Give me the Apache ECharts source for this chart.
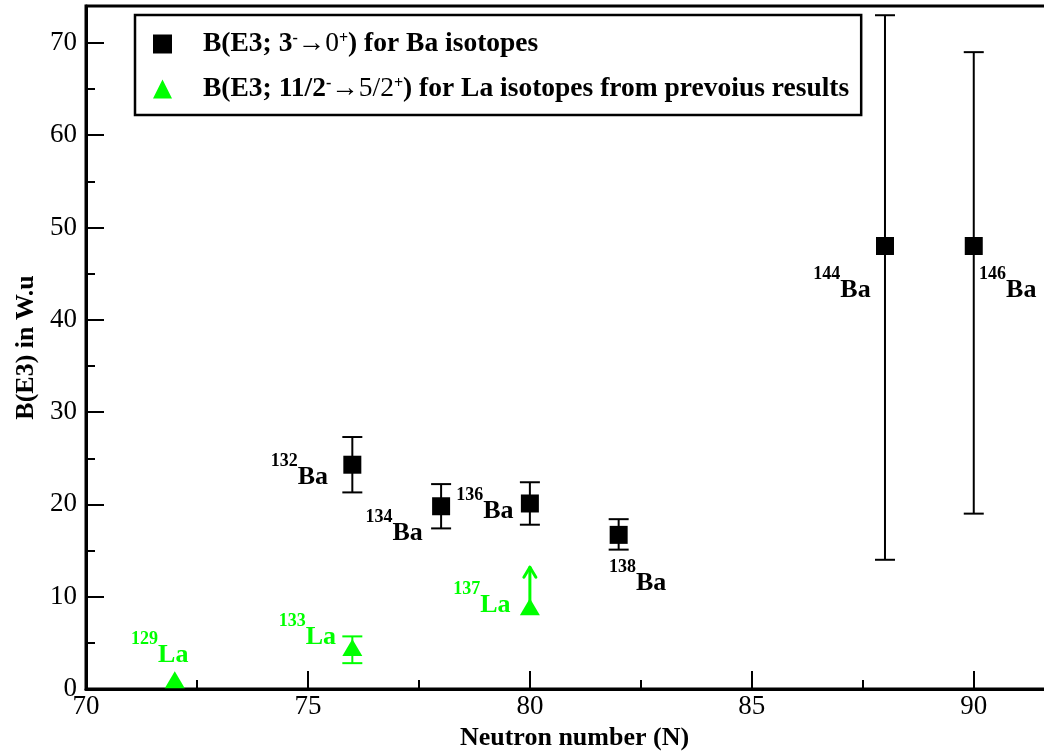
<!DOCTYPE html>
<html>
<head>
<meta charset="utf-8">
<script src="https://cdn.jsdelivr.net/npm/echarts@6/dist/echarts.min.js"></script>
<style>html,body{margin:0;padding:0;background:#fff}#c{width:1044px;height:752px}</style>
</head>
<body>
<div id="c"></div>
<script>
// ---- data ----
const baN    = [76, 78, 80, 82, 88, 90];
const baB    = [24.3, 19.8, 20.1, 16.7, 48.0, 48.0];
const baLow  = [21.3, 17.4, 17.8, 15.1, 14.0, 19.0];
const baHigh = [27.3, 22.2, 22.4, 18.4, 73.0, 69.0];
const baMass = ['132', '134', '136', '138', '144', '146'];

const laN    = [72, 76, 80];
const laB    = [1.0, 4.5, 8.9];
const laLow  = [null, 2.8, null];
const laHigh = [null, 5.7, null];
const laLimitTop = [null, null, 13.2];   // lower-limit arrow
const laMass = ['129', '133', '137'];

const baName = 'B(E3; 3⁻→0⁺) for Ba isotopes';
const laName = 'B(E3; 11/2⁻→5/2⁺) for La isotopes from prevoius results';

// ---- layout / style (not data) ----
const FONT = '"Liberation Serif", "Times New Roman", serif';
const GREEN = '#00ff00';
const baLabelOffset = [[-53, 7], [-47, 21], [-45, 2], [19, 42], [-43, 38], [34, 38]];
const laLabelOffset = [[-15, -30], [-45, -16], [-48, -8]];

function isoRich(color) {
  return {
    s: { fontFamily: FONT, fontWeight: 'bold', fontSize: 18, lineHeight: 18, verticalAlign: 'top', color: color },
    b: { fontFamily: FONT, fontWeight: 'bold', fontSize: 26, lineHeight: 38, verticalAlign: 'bottom', color: color }
  };
}

const baData = baN.map((n, i) => ({
  value: [n, baB[i]],
  label: { show: true, position: 'inside', offset: baLabelOffset[i],
           formatter: '{s|' + baMass[i] + '}{b|Ba}', rich: isoRich('#000') }
}));
const laData = laN.map((n, i) => ({
  value: [n, laB[i]],
  label: { show: true, position: 'inside', offset: laLabelOffset[i],
           formatter: '{s|' + laMass[i] + '}{b|La}', rich: isoRich(GREEN) }
}));

const baErr = baN.map((n, i) => [n, baLow[i], baHigh[i]]);
const laErr = laN.map((n, i) => [n, laLow[i], laHigh[i]]).filter(d => d[1] != null);
const laArrow = laN.map((n, i) => [n, laB[i], laLimitTop[i]]).filter(d => d[2] != null);

function errRender(color) {
  return function (params, api) {
    const x = api.value(0);
    const lo = api.coord([x, api.value(1)]);
    const hi = api.coord([x, api.value(2)]);
    const hw = 10;
    const st = { stroke: color, lineWidth: 2 };
    return {
      type: 'group',
      children: [
        { type: 'line', shape: { x1: lo[0], y1: lo[1], x2: hi[0], y2: hi[1] }, style: st },
        { type: 'line', shape: { x1: hi[0] - hw, y1: hi[1], x2: hi[0] + hw, y2: hi[1] }, style: st },
        { type: 'line', shape: { x1: lo[0] - hw, y1: lo[1], x2: lo[0] + hw, y2: lo[1] }, style: st }
      ]
    };
  };
}

function arrowRender(params, api) {
  const x = api.value(0);
  const base = api.coord([x, api.value(1)]);
  const tip = api.coord([x, api.value(2)]);
  const st = { stroke: GREEN, lineWidth: 3, lineCap: 'round', lineJoin: 'round' };
  return {
    type: 'group',
    children: [
      { type: 'line', shape: { x1: base[0], y1: base[1], x2: tip[0], y2: tip[1] }, style: st },
      { type: 'polyline', shape: { points: [[tip[0] - 6, tip[1] + 10], [tip[0], tip[1]], [tip[0] + 6, tip[1] + 10]] }, style: Object.assign({ fill: null }, st) }
    ]
  };
}

const legendRich = {
  g: { width: 26 },
  n: { fontFamily: FONT, fontWeight: 'bold', fontSize: 27.5, lineHeight: 27, color: '#000' },
  r: { fontFamily: FONT, fontWeight: 'normal', fontSize: 27.5, lineHeight: 27, color: '#000' },
  s: { fontFamily: FONT, fontWeight: 'bold', fontSize: 16, lineHeight: 14, verticalAlign: 'top', color: '#000' }
};
function legendFmt(name) {
  if (name === baName) return '{g|}{n|B(E3; 3}{s|-}{r|→0}{s|+}{n|) for Ba isotopes}';
  return '{g|}{n|B(E3; 11/2}{s|-}{r|→5/2}{s|+}{n|) for La isotopes from prevoius results}';
}

const axisLabelStyle = { fontFamily: FONT, fontSize: 27, color: '#000' };
const nameStyle = { fontFamily: FONT, fontSize: 26, fontWeight: 'bold', color: '#000' };

const chart = echarts.init(document.getElementById('c'), null, { renderer: 'canvas' });
chart.setOption({
  animation: false,
  backgroundColor: '#fff',
  grid: { left: 86, right: -3, top: 6, bottom: 63, containLabel: false, outerBoundsMode: 'none',
          show: true, borderColor: '#000', borderWidth: 3, backgroundColor: 'transparent' },
  legend: {
    orient: 'vertical', left: 135, top: 15,
    data: [{ name: baName, icon: 'rect' }, { name: laName, icon: 'triangle' }],
    itemWidth: 19, itemHeight: 19, itemGap: 17,
    padding: [15, 12, 12, 18],
    borderColor: '#000', borderWidth: 2.5, backgroundColor: '#fff',
    formatter: legendFmt,
    textStyle: { rich: legendRich }
  },
  xAxis: [
    {
      type: 'value', min: 70, max: 91.65, interval: 5,
      name: 'Neutron number (N)', nameLocation: 'middle', nameGap: 22,
      nameTextStyle: Object.assign({ padding: [0, 0, 0, 16] }, nameStyle),
      axisLine: { lineStyle: { color: '#000', width: 3 } },
      axisTick: { inside: true, length: 18, lineStyle: { color: '#000', width: 2 } },
      axisLabel: Object.assign({ margin: 4, showMaxLabel: false }, axisLabelStyle),
      splitLine: { show: false }
    },
    {
      type: 'value', min: 70, max: 91.65, interval: 2.5, position: 'bottom',
      axisLine: { show: false },
      axisTick: { inside: true, length: 9, lineStyle: { color: '#000', width: 2 } },
      axisLabel: { show: false }, splitLine: { show: false }
    }
  ],
  yAxis: [
    {
      type: 'value', min: 0, max: 74, interval: 10,
      name: 'B(E3) in W.u', nameLocation: 'middle', nameGap: 44,
      nameTextStyle: nameStyle,
      axisLine: { lineStyle: { color: '#000', width: 3 } },
      axisTick: { inside: true, length: 18, lineStyle: { color: '#000', width: 2 } },
      axisLabel: Object.assign({ margin: 9, showMaxLabel: false }, axisLabelStyle),
      splitLine: { show: false }
    },
    {
      type: 'value', min: 0, max: 74, interval: 5, position: 'left',
      axisLine: { show: false },
      axisTick: { inside: true, length: 9, lineStyle: { color: '#000', width: 2 } },
      axisLabel: { show: false }, splitLine: { show: false }
    }
  ],
  series: [
    { type: 'custom', name: 'baErr', renderItem: errRender('#000'), data: baErr, z: 1, silent: true },
    { type: 'custom', name: 'laErr', renderItem: errRender(GREEN), data: laErr, z: 1, silent: true },
    { type: 'custom', name: 'laArrow', renderItem: arrowRender, data: laArrow, z: 1, silent: true },
    { type: 'scatter', name: baName, symbol: 'rect', symbolSize: 18, itemStyle: { color: '#000', opacity: 1 }, data: baData, z: 3 },
    { type: 'scatter', name: laName, symbol: 'triangle', symbolSize: [20, 17], itemStyle: { color: GREEN, opacity: 1 }, data: laData, z: 3 }
  ]
});
</script>
</body>
</html>
